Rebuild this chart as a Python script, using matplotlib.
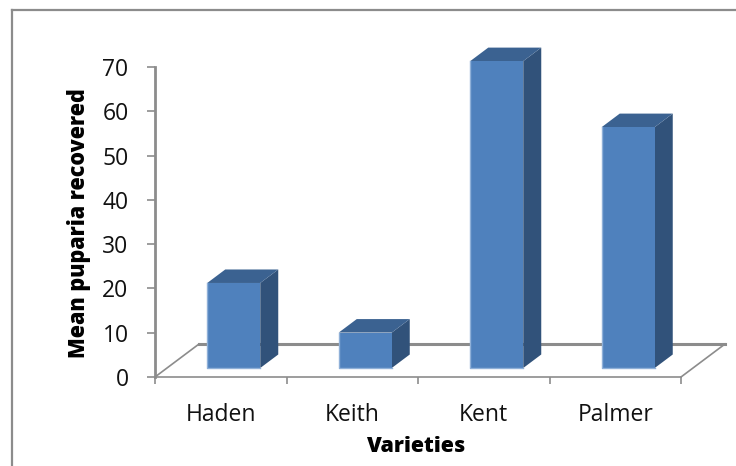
import matplotlib
matplotlib.use('Agg')
import matplotlib.pyplot as plt
from matplotlib.lines import Line2D
from matplotlib.patches import Polygon

plt.rcParams['font.family'] = ['Open Sans', 'DejaVu Sans']

varieties = ['Haden', 'Keith', 'Kent', 'Palmer']
mean_puparia = [19.2, 8, 69.3, 54.4]
y_ticks = [0, 10, 20, 30, 40, 50, 60, 70]
x_edges = [-0.5, 0.5, 1.5, 2.5, 3.5]

FRONT = '#4f81bd'
SIDE = '#31527a'
TOP = '#3b6291'
EDGE = '#8fb0d8'
AXIS = '#8c8c8c'
W, H = 736, 466

fig = plt.figure(figsize=(W / 100, H / 100), dpi=100)
ax = fig.add_axes([155 / W, 1 - 377 / H, (681 - 155) / W, (377 - 67) / H])
ax.set_xlim(-0.5, 3.5)
ax.set_ylim(0, 70)

# fake 3d depth, in data units
depth_x = 44 / 131.5
depth_y = 33 / 4.43
bar_w = 53 / 131.5
# bars stand part way back on the floor
off_x = 13 / 131.5
off_y = 9 / 4.43
bar_dx = 18 / 131.5
bar_dy = 13.5 / 4.43

# floor
ax.plot([-0.5, -0.5 + depth_x], [0, depth_y], color=AXIS, lw=1.2, clip_on=False, zorder=1)
ax.plot([-0.5 + depth_x, 3.5 + depth_x], [depth_y, depth_y], color=AXIS, lw=2.2, clip_on=False, zorder=1)
ax.plot([3.5, 3.5 + depth_x], [0, depth_y], color=AXIS, lw=1.2, clip_on=False, zorder=1)

for i, v in enumerate(mean_puparia):
    x0 = i + off_x - bar_w / 2
    x1 = x0 + bar_w
    y0 = off_y
    y1 = off_y + v
    ax.add_patch(Polygon([(x1, y0), (x1 + bar_dx, y0 + bar_dy), (x1 + bar_dx, y1 + bar_dy), (x1, y1)],
                         fc=SIDE, ec='none', clip_on=False, zorder=3))
    ax.add_patch(Polygon([(x0, y1), (x1, y1), (x1 + bar_dx, y1 + bar_dy), (x0 + bar_dx, y1 + bar_dy)],
                         fc=TOP, ec='none', clip_on=False, zorder=3))
    ax.add_patch(Polygon([(x0, y0), (x1, y0), (x1, y1), (x0, y1)],
                         fc=FRONT, ec='none', clip_on=False, zorder=4))
    ax.plot([x0, x0, x1], [y1, y0, y0], color=EDGE, lw=1, clip_on=False, zorder=5)

for s in ['top', 'right']:
    ax.spines[s].set_visible(False)
ax.spines['left'].set_color(AXIS)
ax.spines['left'].set_linewidth(2)
ax.spines['bottom'].set_color(AXIS)
ax.spines['bottom'].set_linewidth(1.2)

ax.set_yticks(y_ticks)
ax.set_xticks(range(len(varieties)))
ax.set_xticklabels(varieties)
ax.set_xticks(x_edges, minor=True)
ax.tick_params(axis='y', direction='out', length=6, width=1.2, color=AXIS, labelsize=16.5, labelcolor='#111111', pad=13)
ax.tick_params(axis='x', which='major', length=0, labelsize=16.5, labelcolor='#111111', pad=19)
ax.tick_params(axis='x', which='minor', direction='out', length=5, width=1.2, color=AXIS)

fig.text(416 / W, 1 - 447 / H, 'Varieties', fontsize=15.4, fontweight=800, ha='center', va='center', color='black')
fig.text(79.5 / W, 1 - 223.5 / H, 'Mean puparia recovered', fontsize=15.5, fontweight=800, rotation=90,
         ha='center', va='center', color='black')

# chart area border
fig.add_artist(Line2D([12 / W, 12 / W], [0, 1 - 10 / H], color='#8c8c8c', lw=1.6))
fig.add_artist(Line2D([12 / W, 1], [1 - 10 / H, 1 - 10 / H], color='#8c8c8c', lw=1.6))

fig.savefig('out.png', dpi=100)
